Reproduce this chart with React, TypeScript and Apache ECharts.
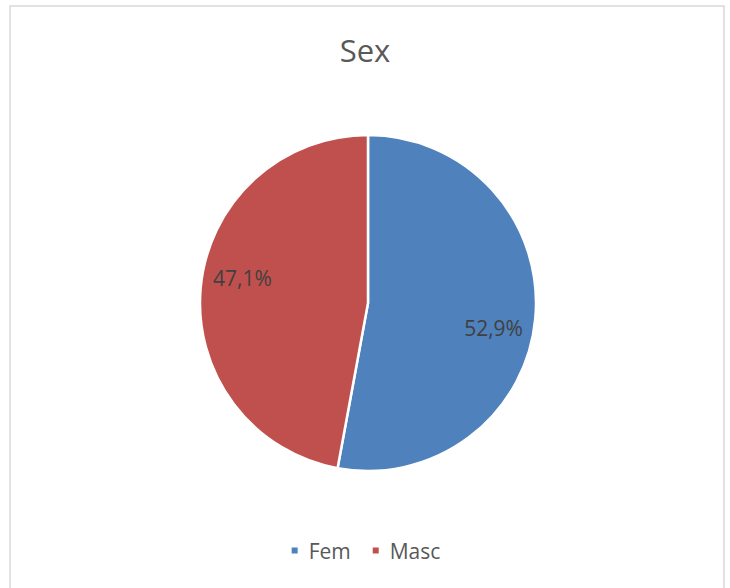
import React, { useEffect, useRef } from "react";
import * as echarts from "echarts";

const title = "Sex";
const categories = ["Fem", "Masc"];
const values = [52.9, 47.1];
const colors = ["#4F81BD", "#C0504D"];

export default function App() {
  const ref = useRef<HTMLDivElement>(null);
  useEffect(() => {
    if (!ref.current) return;
    const chart = echarts.init(ref.current, null, { renderer: "svg" });
    const data = categories.map((c, i) => ({ name: c, value: values[i] }));
    const font = "'Open Sans', 'Noto Sans', sans-serif";
    chart.setOption({
      animation: false,
      color: colors,
      title: {
        text: title,
        left: "center",
        top: 29,
        textStyle: { fontFamily: font, fontSize: 31, fontWeight: "normal", color: "#595959" },
      },
      legend: {
        data: categories,
        bottom: 22,
        left: "center",
        icon: "rect",
        itemWidth: 8,
        itemHeight: 8,
        itemGap: 20,
        textStyle: { fontFamily: font, fontSize: 21, color: "#595959", padding: [0, 0, 0, 5] },
      },
      graphic: [
        {
          type: "rect",
          shape: { x: 10, y: 6, width: 714, height: 600 },
          style: { fill: "none", stroke: "#D9D9D9", lineWidth: 1.5 },
          silent: true,
        },
      ],
      series: [
        {
          type: "pie",
          center: [368, 303],
          radius: [0, 168],
          startAngle: 90,
          clockwise: true,
          data,
          label: { show: false },
          labelLine: { show: false },
          itemStyle: { borderColor: "#fff", borderWidth: 2.5 },
          emphasis: { disabled: true },
        },
        {
          type: "pie",
          center: [368, 303],
          radius: [82, 168],
          startAngle: 84,
          clockwise: true,
          data,
          silent: true,
          itemStyle: { color: "transparent" },
          label: {
            show: true,
            position: "inside",
            formatter: (p: any) => p.value.toFixed(1).replace(".", ",") + "%",
            fontFamily: font,
            fontSize: 21,
            color: "#404040",
          },
          labelLine: { show: false },
          emphasis: { disabled: true },
        },
      ],
    });
    return () => chart.dispose();
  }, []);
  return (
    <div
      ref={ref}
      style={{ position: "absolute", left: 0, top: 0, width: 730, height: 588, background: "#fff" }}
    />
  );
}
